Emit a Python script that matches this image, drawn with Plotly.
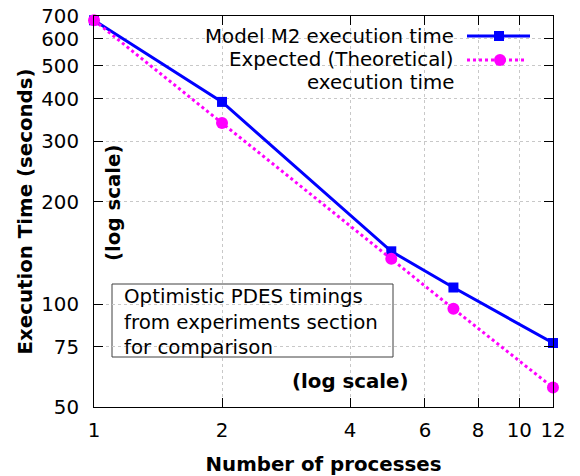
import plotly.graph_objects as go

# Data
processes = [1, 2, 5, 7, 12]
model_m2 = [680, 392, 143, 112, 77]
expected = [680, 340, 136, 97, 57]

x_ticks = [1, 2, 4, 6, 8, 10, 12]
y_ticks = [50, 75, 100, 200, 300, 400, 500, 600, 700]

FONT = "DejaVu Sans"
FS = 19.8

# plot-area geometry in pixels (for paper-coordinate helpers)
L, R, T, B = 94, 553, 16, 407
W, H = R - L, B - T


def px(x):
    return (x - L) / W


def py(y):
    return (B - y) / H


fig = go.Figure()
fig.add_trace(go.Scatter(
    x=processes, y=model_m2, mode="lines+markers", name="Model M2 execution time",
    line=dict(color="#0000ff", width=3),
    marker=dict(symbol="square", size=10, color="#0000ff"),
    showlegend=False, cliponaxis=False))
fig.add_trace(go.Scatter(
    x=processes, y=expected, mode="lines+markers",
    name="Expected (Theoretical) execution time",
    line=dict(color="#ff00ff", width=3, dash="dot"),
    marker=dict(symbol="circle", size=12, color="#ff00ff"),
    showlegend=False, cliponaxis=False))

axis_common = dict(
    type="log", showline=True, linecolor="black", linewidth=1, mirror="allticks",
    ticks="inside", ticklen=9, tickcolor="black", tickwidth=1,
    showgrid=True, gridcolor="#c8c8c8", griddash="dot", gridwidth=1,
    zeroline=False, tickfont=dict(family=FONT, size=FS, color="black"),
)

fig.update_xaxes(
    **axis_common, range=[0, 1.0792], tickvals=x_ticks,
    ticktext=[str(v) for v in x_ticks], ticklabelstandoff=5,
    title=dict(text="<b>Number of processes</b>", font=dict(family=FONT, size=FS),
               standoff=16))
fig.update_yaxes(
    **axis_common, range=[1.69897, 2.845098], tickvals=y_ticks,
    ticktext=[str(v) for v in y_ticks], ticklabelstandoff=10,
    title=dict(text="<b>Execution Time (seconds)</b>", font=dict(family=FONT, size=FS),
               standoff=3))

annotations = [
    dict(text="<b>(log scale)</b>", x=px(113), y=py(203), textangle=-90,
         font=dict(family=FONT, size=FS, color="black")),
    dict(text="<b>(log scale)</b>", x=px(350), y=py(381),
         font=dict(family=FONT, size=FS, color="black")),
    dict(text="Optimistic PDES timings<br>from experiments section<br>for comparison",
         x=px(122), y=py(322), xanchor="left", yanchor="middle", align="left",
         font=dict(family=FONT, size=FS, color="black")),
    dict(text="Model M2 execution time", x=px(456), y=py(36), xanchor="right",
         font=dict(family=FONT, size=FS, color="black")),
    dict(text="Expected (Theoretical)", x=px(456), y=py(59), xanchor="right",
         font=dict(family=FONT, size=FS, color="black")),
    dict(text="execution time", x=px(456), y=py(82), xanchor="right",
         font=dict(family=FONT, size=FS, color="black")),
]
for a in annotations:
    a.update(xref="paper", yref="paper", showarrow=False)
    a.setdefault("xanchor", "center")
    a.setdefault("yanchor", "middle")

shapes = [
    # comment box
    dict(type="rect", x0=px(112), x1=px(393), y0=py(284), y1=py(357),
         line=dict(color="#404040", width=1), fillcolor="white", layer="below"),
    # legend samples
    dict(type="line", x0=px(467), x1=px(530), y0=py(36), y1=py(36),
         line=dict(color="#0000ff", width=3)),
    dict(type="rect", x0=px(494), x1=px(504), y0=py(31), y1=py(41),
         line=dict(color="#0000ff", width=0), fillcolor="#0000ff"),
    dict(type="line", x0=px(467), x1=px(527), y0=py(60), y1=py(60),
         line=dict(color="#ff00ff", width=3, dash="dot")),
    dict(type="circle", x0=px(494), x1=px(506), y0=py(54), y1=py(66),
         line=dict(color="#ff00ff", width=0), fillcolor="#ff00ff"),
]
for s in shapes:
    s.update(xref="paper", yref="paper")

fig.update_layout(
    width=580, height=476,
    margin=dict(l=L, r=580 - R, t=T, b=476 - B, autoexpand=False),
    paper_bgcolor="white", plot_bgcolor="white",
    font=dict(family=FONT, size=FS, color="black"),
    annotations=annotations, shapes=shapes, showlegend=False,
)

fig.write_html("out.html", config={"displayModeBar": False},
               post_script="document.body.style.margin='0';document.body.style.overflow='hidden';")
